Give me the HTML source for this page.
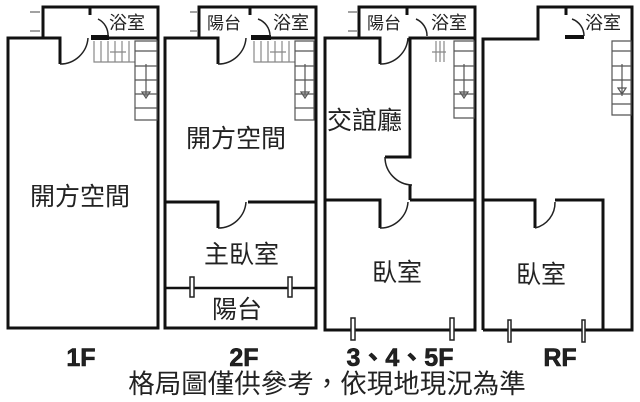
<!DOCTYPE html>
<html><head><meta charset="utf-8"><style>
html,body{margin:0;padding:0;background:#fff;}
svg{display:block;}
text{font-family:"Liberation Sans","Noto Sans CJK TC",sans-serif;fill:#222;}
</style></head><body>
<svg width="640" height="402" viewBox="0 0 640 402" xmlns="http://www.w3.org/2000/svg">
<g fill="none" stroke="#111" stroke-width="3" stroke-linejoin="miter">
<path d="M60 64 V38 H8 V328 H158 V38 M43 38 V7 H158 V38 H108"/>
<path d="M90 7 V15"/>
<path d="M218 64 V38 H165 V328 H316 V38 M199 38 V7 H316 V38 H270"/>
<path d="M250 7 V15"/>
<path d="M165 202 H218 V228 M248 202 H316"/>
<path d="M165 288 H316" stroke-width="2.5"/>
<path d="M380 64 V38 H325 V330 H475 V38 M359 38 V7 H475 V38 H410 V157 H385"/>
<path d="M410 185 V200 M325 200 H380 V228 M410 200 H475"/>
<path d="M407 7 V15"/>
<path d="M483 330 V39 H538 V7 H632 V330 H483"/>
<path d="M566 7 V15"/>
<path d="M483 200 H535 V228 M555 200 H603 V330"/>
</g>
<g fill="#111"><rect x="91" y="35" width="18" height="5"/><rect x="251" y="35" width="20" height="5"/><rect x="565" y="35" width="19" height="4"/></g>
<g fill="none" stroke="#222" stroke-width="1.5">
<path d="M60 64 A28 28 0 0 0 88 38"/>
<path d="M98 19 A18 18 0 0 1 108 36"/>
<path d="M218 64 A28 28 0 0 0 246 38"/>
<path d="M258 19 A18 18 0 0 1 270 36"/>
<path d="M380 64 A28 28 0 0 0 408 38"/>
<path d="M416 19 A18 18 0 0 1 427 36"/>
<path d="M385 157 A28 28 0 0 0 412 185"/>
<path d="M218 228 A28 28 0 0 0 246 202"/>
<path d="M380 228 A28 28 0 0 0 408 202"/>
<path d="M535 228 A26 26 0 0 0 555 202"/>
<path d="M572 19 A18 18 0 0 1 584 36"/>
</g>
<g stroke="#444" stroke-width="1"><path d="M30 12 H40 M30 31 H40 M190 12 H197 M190 31 H197 M348 12 H357 M348 31 H357"/></g>
<g fill="none" stroke="#888" stroke-width="1.2">
<path d="M94 41 V62 H135 M101 41 V62 M108 41 V62 M115 41 V62 M122 41 V62 M129 41 V62 M110 52 H126"/>
<path d="M254 41 V62 H295 M261 41 V62 M268 41 V62 M275 41 V62 M282 41 V62 M289 41 V62 M270 52 H286"/>
<path d="M436 41 V62 M440 41 V62 M444 41 V62 M432 52 H446"/>
</g>
<g fill="none" stroke="#555" stroke-width="1.2">
<path d="M135 41 H157 V120 H135 Z M135 51 H157 M135 66 H157 M135 80 H157 M135 94 H157 M135 108 H157 M146 64 V96 M142 92 L146 98 L150 92 Z"/>
<path d="M295 41 H314 V120 H295 Z M295 51 H314 M295 66 H314 M295 80 H314 M295 94 H314 M295 108 H314 M305 64 V96 M301 92 L305 98 L309 92 Z"/>
<path d="M454 41 H474 V118 H454 Z M454 51 H474 M454 66 H474 M454 80 H474 M454 94 H474 M454 108 H474 M464 64 V96 M460 92 L464 98 L468 92 Z"/>
<path d="M612 41 H631 V115 H612 Z M612 51 H631 M612 66 H631 M612 80 H631 M612 94 H631 M612 104 H631 M622 64 V96 M618 88 L622 94 L626 88 Z"/>
</g>
<g fill="#fff" stroke="#222" stroke-width="1.5">
<rect x="190" y="277" width="4" height="20"/><rect x="288" y="277" width="4" height="20"/>
<rect x="351" y="318" width="4" height="22"/><rect x="450" y="318" width="4" height="22"/>
<rect x="508" y="320" width="3" height="22"/><rect x="582" y="320" width="3" height="22"/>
</g>
<g font-size="18">
<text x="109" y="29">浴室</text>
<text x="207" y="29" font-size="17">陽台</text><text x="273" y="29">浴室</text>
<text x="367" y="29" font-size="17">陽台</text><text x="431" y="29">浴室</text>
<text x="585" y="29">浴室</text>
</g>
<g font-size="25">
<text x="30" y="205">開方空間</text>
<text x="186" y="147">開方空間</text>
<text x="204" y="263">主臥室</text>
<text x="212" y="318">陽台</text>
<text x="327" y="129">交誼廳</text>
<text x="372" y="281">臥室</text>
<text x="516" y="283">臥室</text>
</g>
<g font-size="25" font-weight="bold" text-anchor="middle" style="fill:#111" stroke="#111" stroke-width="0.6">
<text x="81" y="366">1F</text><text x="244" y="366">2F</text><text x="400" y="366">3、4、5F</text><text x="560" y="366">RF</text>
</g>
<text x="327" y="393" font-size="26.5" text-anchor="middle">格局圖僅供參考，依現地現況為準</text>
</svg>
</body></html>
